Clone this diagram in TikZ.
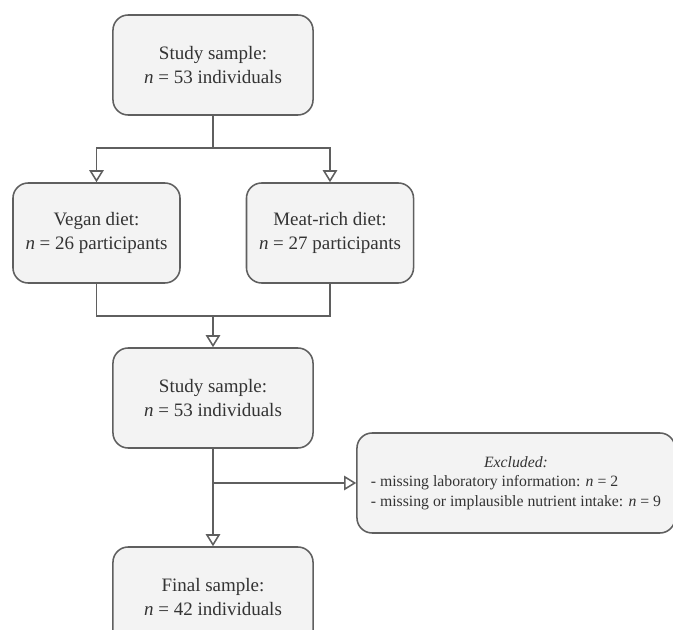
\documentclass[tikz,border=0pt]{standalone}
\usepackage{fontspec}
\setmainfont{Liberation Serif}
\usetikzlibrary{arrows.meta}
\definecolor{boxfill}{HTML}{F3F3F3}
\definecolor{edgegray}{HTML}{5F5F5F}
\definecolor{inkgray}{HTML}{333333}

\begin{document}
\begin{tikzpicture}[x=0.025cm, y=-0.025cm,
    stage/.style={draw=edgegray, fill=boxfill, line width=1.1pt, rounded corners=0.38cm,
      minimum width=5cm, minimum height=2.5cm, inner sep=0pt, align=center,
      text=inkgray, font=\fontsize{13.5}{17}\selectfont},
    link/.style={draw=edgegray, line width=1.1pt},
    flow/.style={link, -{Triangle[open, length=0.3cm, width=0.36cm]}}]
  % page frame, the last box runs off the bottom
  \clip (0,0) rectangle (673,630);

  % Draw the boxes
  \node[stage] (top) at (213,65) {Study sample:\\\textit{n} = 53 individuals};
  \node[stage, minimum width=4.175cm] (vegan) at (96.5,233) {Vegan diet:\\\textit{n} = 26 participants};
  \node[stage, minimum width=4.175cm] (meat) at (330,233) {Meat-rich diet:\\\textit{n} = 27 participants};
  \node[stage] (mid) at (213,398) {Study sample:\\\textit{n} = 53 individuals};
  \node[stage, minimum width=7.95cm, font=\fontsize{11.2}{14}\selectfont] (excl) at (516,483)
    {\begin{tabular}{@{}l@{}}\multicolumn{1}{@{}c@{}}{\textit{Excluded:}}\\
     - missing laboratory information: \textit{n} = 2\\
     - missing or implausible nutrient intake: \textit{n} = 9\end{tabular}};
  \node[stage] (final) at (213,597) {Final sample:\\\textit{n} = 42 individuals};

  % split points of the connectors
  \coordinate (split) at (213,148);
  \coordinate (merge) at (213,316);
  \coordinate (branch) at (213,483);

  % Connect the boxes
  \draw[link] (top) -- (split);
  \draw[flow] (split) -| (vegan);
  \draw[flow] (split) -| (meat);
  \draw[link] (vegan) |- (merge) -| (meat);
  \draw[flow] (merge) -- (mid);
  \draw[flow] (mid) -- (final);
  \draw[flow] (branch) -- (excl);
\end{tikzpicture}
\end{document}
